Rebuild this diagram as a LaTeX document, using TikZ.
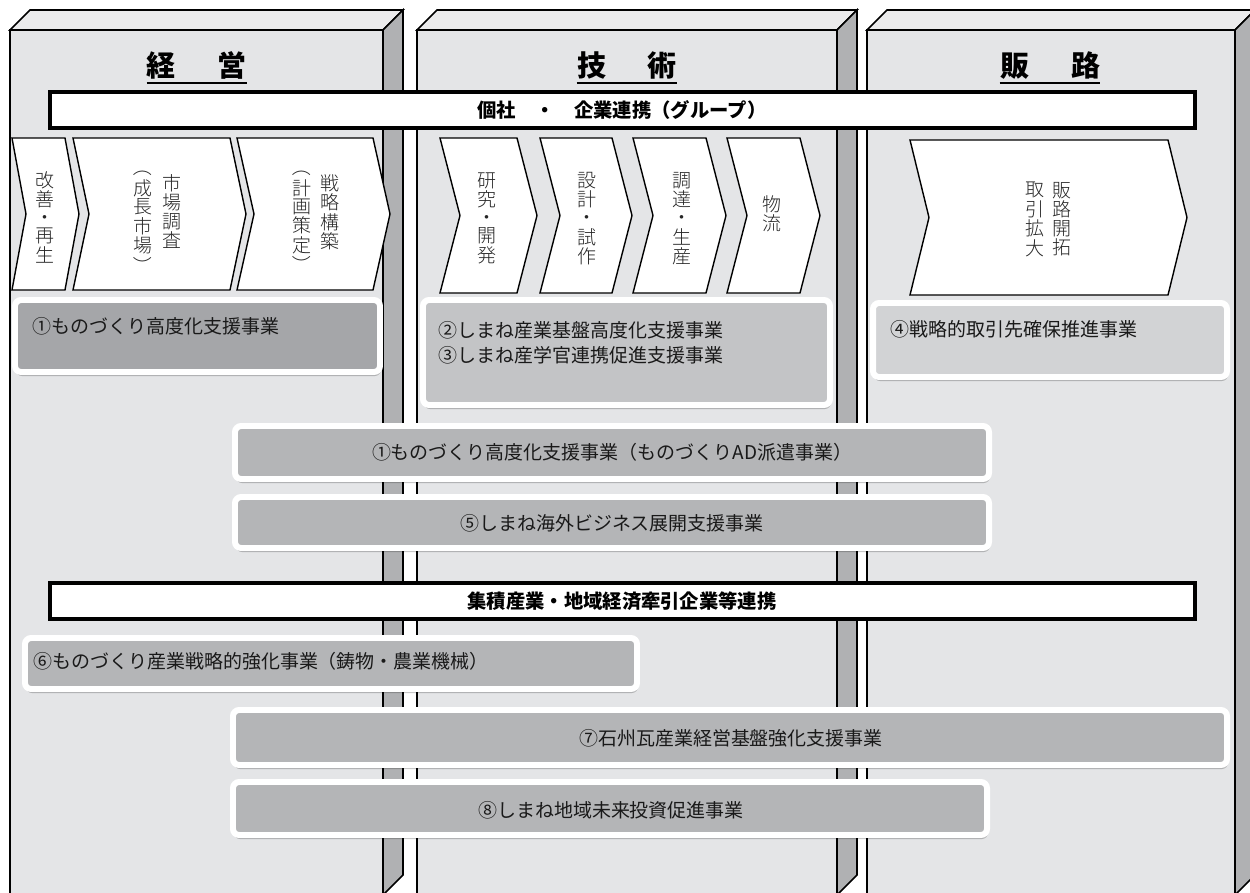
\documentclass[tikz,border=0pt]{standalone}
\usepackage{fontspec}
\usepackage{graphicx}
\setmainfont{Noto Sans CJK JP}
\IfFontExistsTF{Noto Sans CJK JP Light}{\newfontfamily\lightfont{Noto Sans CJK JP Light}}{\newfontfamily\lightfont{Noto Sans CJK JP}}
\usetikzlibrary{shadows,fit}
\definecolor{frontc}{HTML}{E4E5E7}
\definecolor{topc}{HTML}{EBEBEC}
\definecolor{sidec}{HTML}{B0B1B3}
\definecolor{boxa}{HTML}{A5A6A9}
\definecolor{boxb}{HTML}{C3C4C6}
\definecolor{boxc}{HTML}{D2D3D5}
\definecolor{boxd}{HTML}{B4B5B7}
\newlength\vpitch \setlength\vpitch{10.2pt}
\newcommand\vpl{\raisebox{0.1em}{\rotatebox[origin=c]{-90}{（}}}
\newcommand\vpr{\raisebox{0.1em}{\rotatebox[origin=c]{-90}{）}}}
\newcommand\vcol[1]{\vbox{\offinterlineskip\vcolA#1\relax}}
\def\vcolA#1{\ifx\relax#1\else\hbox to 1.2em{\hss\vrule width0pt height0.8\vpitch depth0.2\vpitch #1\hss}\expandafter\vcolA\fi}
\newcommand\chev[5]{% L R d T B
  \filldraw[chev] (#1,#4) -- (#2,#4) -- ({#2+#3},{(#4+#5)/2}) -- (#2,#5) -- (#1,#5) -- ({#1+#3},{(#4+#5)/2}) -- cycle;}
\tikzset{
  pillar/.style={draw=black, line width=0.9pt, line join=miter},
  banner/.style={draw=black, line width=2.2pt, fill=white, inner sep=0pt},
  btext/.style={inner sep=0pt, font=\bfseries\fontsize{11pt}{13pt}\selectfont},
  chev/.style={draw=black, line width=0.8pt, fill=white, line join=miter},
  ctext/.style={inner sep=0pt, anchor=north, font=\lightfont\fontsize{10.8pt}{11pt}\selectfont, text=black!85},
  prog/.style={draw=white, line width=3.4pt, rounded corners=3.5pt, inner sep=0pt,
    drop shadow={fill=black, opacity=0.22, shadow xshift=0.5pt, shadow yshift=-2.3pt}},
  ptext/.style={inner sep=0pt, anchor=west, font=\fontsize{10.8pt}{13pt}\selectfont, text=black!90},
  pctext/.style={ptext, anchor=center},
  head/.style={inner sep=0pt, anchor=base, font=\bfseries\fontsize{16.5pt}{19pt}\selectfont},
  uline/.style={line width=1.1pt}
}
\begin{document}
\begin{tikzpicture}[x=0.02cm, y=-0.02cm]
\useasboundingbox (0,0) rectangle (1250,892);
\fill[white] (0,0) rectangle (1250,892);
\clip (0,0) rectangle (1250,892);
% pillars
\foreach \L/\R in {10/383, 417/837, 867/1235}{
  \filldraw[pillar, fill=frontc] (\L,30) rectangle (\R,895);
  \filldraw[pillar, fill=topc] (\L,30) -- ({\L+20},10) -- ({\R+20},10) -- (\R,30) -- cycle;
  \filldraw[pillar, fill=sidec] (\R,30) -- ({\R+20},10) -- ({\R+20},875) -- (\R,895) -- cycle;
}
% headers
\node[head] (h1) at (197,77) {経\hspace{1.45em}営};
\node[head] (h2) at (627,77) {技\hspace{1.45em}術};
\node[head] (h3) at (1050,77) {販\hspace{1.45em}路};
\foreach \h in {h1,h2,h3}{
  \draw[uline] ([yshift=-3.3pt]\h.base west) -- ([yshift=-3.3pt]\h.base east);
}
% banner 1
\node[banner, fit={(50,92) (1195,128)}] (ban1) {};
\node[btext] (ban1t) at (622,110) {個社　・　企業連携（グループ）};
% chevrons
\chev{12}{65}{14}{138}{290}
\chev{73}{230}{16}{138}{290}
\chev{237}{373}{17}{138}{290}
\chev{440}{517}{20}{138}{293}
\chev{540}{612}{20}{138}{293}
\chev{633}{706}{20}{138}{293}
\chev{727}{800}{20}{138}{293}
\chev{910}{1168}{19}{140}{295}
\node[ctext] (c1) at (45,171) {\vcol{改善・再生}};
\node[ctext] (c2r) at (172,174) {\vcol{市場調査}};
\node[ctext] (c2l) at (143,157) {\vcol{\vpl 成長市場\vpr}};
\node[ctext] (c3r) at (330,174) {\vcol{戦略構築}};
\node[ctext] (c3l) at (302,157) {\vcol{\vpl 計画策定\vpr}};
\node[ctext] (c4) at (487,172) {\vcol{研究・開発}};
\node[ctext] (c5) at (587,172) {\vcol{設計・試作}};
\node[ctext] (c6) at (682,172) {\vcol{調達・生産}};
\node[ctext] (c7) at (772,195) {\vcol{物流}};
\node[ctext] (c8r) at (1062,182) {\vcol{販路開拓}};
\node[ctext] (c8l) at (1035,182) {\vcol{取引拡大}};
% program boxes
\node[prog, fill=boxa, fit={(15,300) (380,372)}] (p1) {};
\node[ptext] (p1t) at (32,326) {①ものづくり高度化支援事業};
\node[prog, fill=boxb, fit={(423,300) (830,405)}] (p23) {};
\node[ptext] (p2t) at (438,330) {②しまね産業基盤高度化支援事業};
\node[ptext] (p3t) at (438,355) {③しまね産学官連携促進支援事業};
\node[prog, fill=boxc, fit={(873,303) (1227,377)}] (p4) {};
\node[ptext] (p4t) at (890,329) {④戦略的取引先確保推進事業};
\node[prog, fill=boxd, fit={(235,426) (989,479)}] (pad) {};
\node[pctext] (padt) at (612,452) {①ものづくり高度化支援事業（ものづくりAD派遣事業）};
\node[prog, fill=boxd, fit={(235,497) (989,548)}] (p5) {};
\node[pctext] (p5t) at (612,523) {⑤しまね海外ビジネス展開支援事業};
% banner 2
\node[banner, fit={(50,583) (1195,619)}] (ban2) {};
\node[btext] (ban2t) at (622,601) {集積産業・地域経済牽引企業等連携};
\node[prog, fill=boxd, fit={(25,638) (637,689)}] (p6) {};
\node[ptext] (p6t) at (33,661) {⑥ものづくり産業戦略的強化事業（鋳物・農業機械）};
\node[prog, fill=boxd, fit={(233,710) (1227,765)}] (p7) {};
\node[pctext] (p7t) at (731,738) {⑦石州瓦産業経営基盤強化支援事業};
\node[prog, fill=boxd, fit={(233,782) (987,835)}] (p8) {};
\node[pctext] (p8t) at (611,810) {⑧しまね地域未来投資促進事業};
\end{tikzpicture}
\end{document}
